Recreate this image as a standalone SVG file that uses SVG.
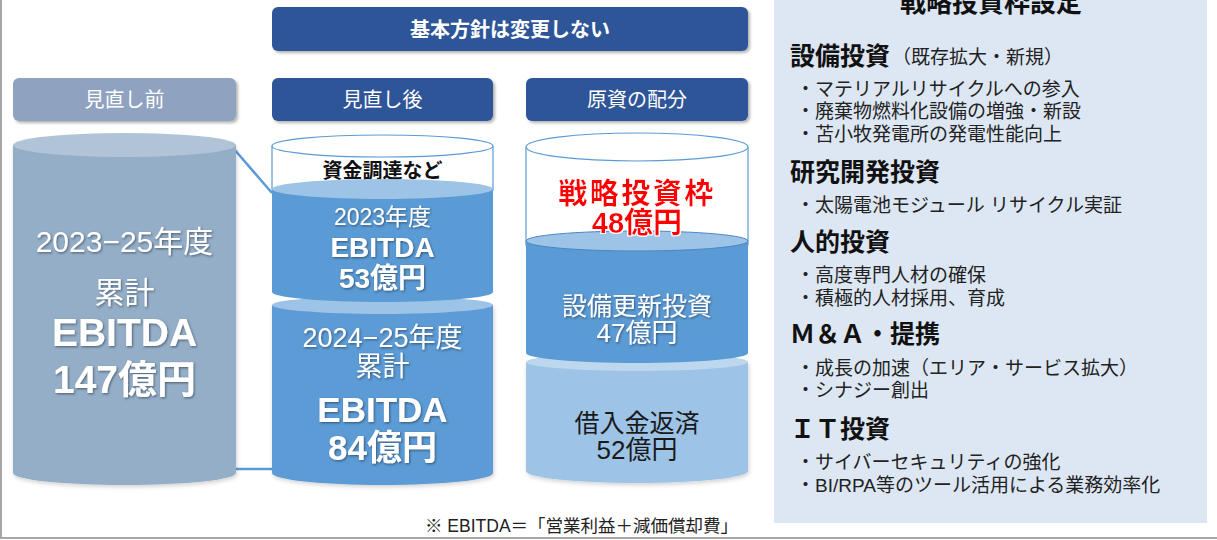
<svg xmlns="http://www.w3.org/2000/svg" width="1217" height="540" viewBox="0 0 1217 540">
<defs>
<filter id="sh" x="-5%" y="-20%" width="115%" height="160%"><feDropShadow dx="2" dy="2" stdDeviation="1.5" flood-color="#000" flood-opacity="0.3"/></filter>
<filter id="ts" x="-10%" y="-20%" width="130%" height="150%"><feDropShadow dx="1" dy="1.2" stdDeviation="0.8" flood-color="#1a2a40" flood-opacity="0.6"/></filter>
<filter id="cs" x="-5%" y="-5%" width="115%" height="115%"><feDropShadow dx="1" dy="2" stdDeviation="2" flood-color="#000" flood-opacity="0.18"/></filter>
<filter id="rg" x="-10%" y="-20%" width="120%" height="140%"><feMorphology in="SourceAlpha" operator="dilate" radius="1" result="d"/><feFlood flood-color="#fff"/><feComposite in2="d" operator="in" result="o"/><feMerge><feMergeNode in="o"/><feMergeNode in="SourceGraphic"/></feMerge></filter>
</defs>
<style>
text{font-family:"Liberation Sans","Noto Sans CJK JP",sans-serif;}
.hd{fill:#2f5597;}
.ht{fill:#fff;font-size:20px;text-anchor:middle;}
.w{fill:#fff;text-anchor:middle;}
.b{font-weight:bold;}
.c{text-anchor:middle;}
.h2{font-size:25px;font-weight:bold;fill:#111;}
.bl{font-size:19px;fill:#222;}
.mid{fill:#5b9bd5;}
.lt{fill:#9dc3e6;}
</style>
<rect width="1217" height="540" fill="#fff"/>
<line x1="1" y1="0" x2="1" y2="538" stroke="#a6a6a6" stroke-width="2"/>
<line x1="0" y1="538" x2="1217" y2="538" stroke="#a6a6a6" stroke-width="2"/>

<g id="banner">
<rect x="272" y="7" width="476" height="44" rx="6" class="hd" filter="url(#sh)"/>
<text x="510" y="37" class="ht b" font-size="20">基本方針は変更しない</text>
</g>

<g id="header-before">
<rect x="13" y="78" width="223" height="43" rx="6" fill="#8fa2bf" filter="url(#sh)"/>
<text x="124.5" y="107" class="ht">見直し前</text>
</g>
<g id="header-after">
<rect x="272" y="78" width="221" height="43" rx="6" class="hd" filter="url(#sh)"/>
<text x="382.5" y="107" class="ht">見直し後</text>
</g>
<g id="header-alloc">
<rect x="526" y="78" width="222" height="43" rx="6" class="hd" filter="url(#sh)"/>
<text x="637" y="107" class="ht">原資の配分</text>
</g>

<g id="connectors" stroke="#5b9bd5" stroke-width="2.5" fill="none">
<line x1="234" y1="149" x2="272" y2="193"/>
<line x1="236" y1="469" x2="272" y2="469"/>
</g>

<g id="cyl-before">
<path d="M13,145 V473 A111.5,12 0 0 0 236,473 V145 Z" fill="#95aec7" filter="url(#cs)"/>
<ellipse cx="124.5" cy="145" rx="111.5" ry="12" fill="#b1c4d7"/>
<g filter="url(#ts)">
<text x="124.5" y="252" class="w" font-size="30">2023−25年度</text>
<text x="124.5" y="303" class="w" font-size="30">累計</text>
<text x="124.5" y="346" class="w b" font-size="39">EBITDA</text>
<text x="124.5" y="393" class="w b" font-size="39">147億円</text>
</g>
</g>

<g id="cyl-after">
<path d="M272,146 V190 A110.5,11 0 0 0 493,190 V146" fill="#fff" stroke="#5b9bd5" stroke-width="1.2"/>
<ellipse cx="382.5" cy="146" rx="110.5" ry="11" fill="#fff" stroke="#5b9bd5" stroke-width="1.2"/>
<text x="382.5" y="178" class="c b" font-size="20" fill="#111">資金調達など</text>
<path d="M272,305 V473 A110.5,12 0 0 0 493,473 V305 Z" class="mid" filter="url(#cs)"/>
<ellipse cx="382.5" cy="305" rx="110.5" ry="9" class="lt"/>
<path d="M272,189 V292 A110.5,10 0 0 0 493,292 V189 Z" class="mid"/>
<ellipse cx="382.5" cy="189" rx="110.5" ry="10" class="lt"/>
<g filter="url(#ts)">
<text x="382.5" y="225" class="w" font-size="23">2023年度</text>
<text x="382.5" y="257" class="w b" font-size="28">EBITDA</text>
<text x="382.5" y="288" class="w b" font-size="28">53億円</text>
<text x="382.5" y="347" class="w" font-size="27">2024−25年度</text>
<text x="382.5" y="376" class="w" font-size="27">累計</text>
<text x="382.5" y="422" class="w b" font-size="35">EBITDA</text>
<text x="382.5" y="460" class="w b" font-size="35">84億円</text>
</g>
</g>

<g id="cyl-alloc">
<path d="M526,147 V245 A111,10 0 0 0 748,245 V147" fill="#fff" stroke="#5b9bd5" stroke-width="1.2"/>
<ellipse cx="637" cy="147" rx="111" ry="14" fill="#fff" stroke="#5b9bd5" stroke-width="1.2"/>
<path d="M526,362 V471 A111,12 0 0 0 748,471 V362 Z" class="lt" filter="url(#cs)"/>
<ellipse cx="637" cy="362" rx="111" ry="9" fill="#bdd7ee"/>
<path d="M526,241 V353 A111,10 0 0 0 748,353 V241 Z" class="mid"/>
<ellipse cx="637" cy="241" rx="111" ry="10" class="lt" stroke="#4a86c5" stroke-width="1"/>
<g filter="url(#rg)">
<text x="637" y="204" class="c b" font-size="29" fill="#ff0000" letter-spacing="2.5">戦略投資枠</text>
<text x="637" y="233" class="c b" font-size="29" fill="#ff0000">48億円</text>
</g>
<g filter="url(#ts)">
<text x="637" y="315" class="w" font-size="25">設備更新投資</text>
<text x="637" y="342" class="w" font-size="26">47億円</text>
</g>
<text x="637" y="432" class="c" font-size="25" fill="#1a1a1a">借入金返済</text>
<text x="637" y="459" class="c" font-size="26" fill="#1a1a1a">52億円</text>
</g>

<g id="footnote">
<text x="425" y="532" font-size="17.5" fill="#222">※ EBITDA＝「営業利益＋減価償却費」</text>
</g>

<g id="strategy-panel">
<rect x="774" y="0" width="433" height="523" fill="#dde7f3"/>
<text x="991" y="12" class="c b" font-size="26" fill="#111">戦略投資枠設定</text>
<text x="790" y="65" class="h2">設備投資</text>
<text x="892" y="64" class="bl">（既存拡大・新規）</text>
<text x="796" y="96" class="bl">・マテリアルリサイクルへの参入</text>
<text x="796" y="118" class="bl">・廃棄物燃料化設備の増強・新設</text>
<text x="796" y="141" class="bl">・苫小牧発電所の発電性能向上</text>
<text x="790" y="181" class="h2">研究開発投資</text>
<text x="796" y="212" class="bl">・太陽電池モジュール リサイクル実証</text>
<text x="790" y="251" class="h2">人的投資</text>
<text x="796" y="282" class="bl">・高度専門人材の確保</text>
<text x="796" y="305" class="bl">・積極的人材採用、育成</text>
<text x="790" y="343" class="h2">Ｍ＆Ａ・提携</text>
<text x="796" y="375" class="bl">・成長の加速（エリア・サービス拡大）</text>
<text x="796" y="397" class="bl">・シナジー創出</text>
<text x="790" y="438" class="h2">ＩＴ投資</text>
<text x="796" y="469" class="bl">・サイバーセキュリティの強化</text>
<text x="796" y="492" class="bl">・BI/RPA等のツール活用による業務効率化</text>
</g>
</svg>
